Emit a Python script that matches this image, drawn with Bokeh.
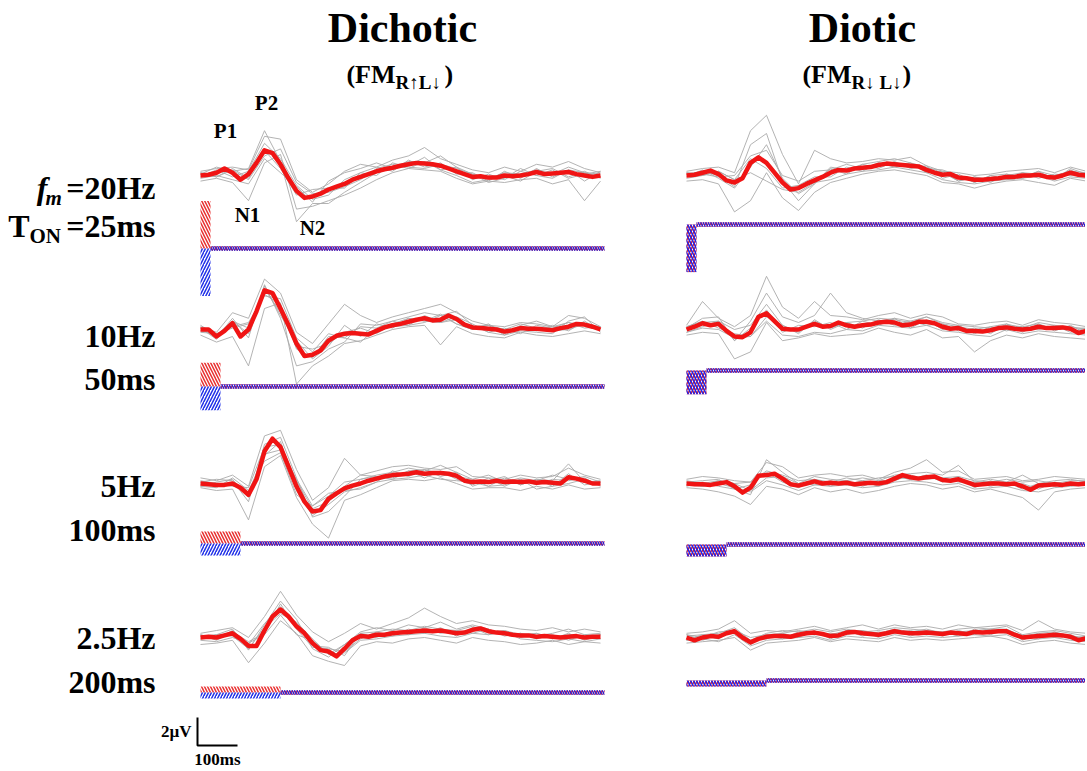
from bokeh.plotting import figure
from bokeh.models import Range1d
from bokeh.core.properties import value
from bokeh.embed import file_html
from bokeh.resources import INLINE

# ---------------- data ----------------
T_RED = list(range(0, 1001, 20))      # ms, grand-average sampling
T_GRAY = list(range(0, 1001, 40))     # ms, individual traces sampling
FM_HZ = [20, 10, 5, 2.5]
T_ON_MS = [25, 50, 100, 200]
FM_LABELS = ["20Hz", "10Hz", "5Hz", "2.5Hz"]
TON_LABELS = ["25ms", "50ms", "100ms", "200ms"]
CONDITIONS = ["Dichotic", "Diotic"]
PEAKS = ["P1", "P2", "N1", "N2"]
SCALE_MS = 100
SCALE_UV = 2

# grand averages (µV), dichotic
DICH_20 = [0.0, 0.05, 0.2, 0.5, 0.2, -0.3, 0.1, 0.9, 1.8, 1.6, 0.8, -0.2, -1.1, -1.6, -1.5, -1.3, -1.0, -0.8, -0.6, -0.3,
           -0.1, 0.1, 0.3, 0.45, 0.55, 0.7, 0.8, 0.9, 0.85, 0.8, 0.7, 0.5, 0.3, 0.1, -0.1, -0.05, -0.15, -0.15, 0.0, -0.05,
           0.0, 0.1, 0.25, 0.1, 0.15, 0.2, 0.25, 0.1, 0.0, -0.1, 0.0]
DICH_10 = [0.0, 0.0, -0.5, -0.1, 0.45, -0.5, 0.0, 1.3, 2.8, 2.6, 1.5, 0.3, -1.0, -1.9, -1.8, -1.5, -0.8, -0.45, -0.3, -0.25,
           -0.3, -0.35, -0.1, 0.15, 0.3, 0.4, 0.55, 0.7, 0.8, 0.65, 0.7, 1.0, 0.75, 0.35, 0.15, 0.1, 0.05, 0.0, -0.15, -0.05,
           0.1, 0.05, 0.05, 0.0, -0.05, 0.1, 0.2, 0.4, 0.35, 0.2, 0.0]
DICH_5 = [0.0, -0.05, -0.1, -0.1, 0.0, -0.3, -0.8, 0.3, 2.3, 3.2, 2.6, 1.2, -0.2, -1.3, -2.0, -1.9, -1.1, -0.7, -0.35, -0.15,
          0.0, 0.2, 0.35, 0.5, 0.6, 0.65, 0.7, 0.8, 0.7, 0.75, 0.75, 0.7, 0.55, 0.2, 0.1, 0.15, 0.1, 0.2, 0.1, 0.15,
          0.1, 0.15, 0.05, 0.1, 0.05, 0.0, 0.45, 0.35, 0.2, 0.0, 0.0]
DICH_2_5 = [0.0, 0.05, 0.0, 0.15, 0.3, -0.1, -0.6, -0.6, 0.5, 1.5, 2.0, 1.5, 0.8, 0.3, -0.4, -0.9, -1.0, -1.35, -0.8, -0.2,
            0.1, 0.05, 0.2, 0.2, 0.3, 0.35, 0.4, 0.45, 0.5, 0.45, 0.5, 0.4, 0.3, 0.35, 0.55, 0.65, 0.45, 0.35, 0.3, 0.2,
            0.15, 0.15, 0.05, 0.1, 0.05, 0.0, 0.05, 0.1, 0.0, 0.05, 0.05]
# grand averages (µV), diotic
DIOT_20 = [0.0, 0.05, 0.2, 0.35, 0.1, -0.35, -0.5, -0.2, 0.9, 1.3, 0.9, 0.2, -0.5, -1.0, -0.9, -0.6, -0.35, -0.1, 0.2, 0.4,
           0.35, 0.5, 0.55, 0.6, 0.75, 0.85, 0.8, 0.75, 0.7, 0.65, 0.4, 0.2, 0.05, 0.1, -0.15, -0.2, -0.3, -0.3, -0.25, -0.2,
           -0.1, -0.1, 0.0, 0.0, 0.05, -0.1, -0.15, 0.0, 0.2, 0.05, 0.0]
DIOT_10 = [0.0, 0.2, 0.45, 0.3, 0.4, -0.1, -0.5, -0.55, -0.2, 0.9, 1.15, 0.6, 0.05, 0.0, 0.0, 0.2, 0.4, 0.2, 0.25, 0.5,
           0.3, 0.2, 0.3, 0.35, 0.5, 0.55, 0.5, 0.3, 0.35, 0.55, 0.55, 0.45, 0.2, 0.05, 0.1, -0.1, -0.1, -0.15, -0.05, 0.1,
           0.15, 0.05, 0.0, 0.05, 0.2, 0.1, 0.1, 0.15, 0.05, -0.25, -0.1]
DIOT_5 = [0.0, -0.05, -0.05, -0.1, 0.0, 0.1, -0.2, -0.65, -0.3, 0.55, 0.6, 0.7, 0.35, -0.05, -0.15, 0.0, 0.15, 0.0, 0.05, 0.0,
          0.05, -0.05, 0.0, 0.05, 0.0, 0.1, 0.35, 0.6, 0.45, 0.35, 0.45, 0.5, 0.25, 0.2, 0.3, 0.1, -0.1, -0.05, 0.0, 0.0,
          -0.05, 0.0, -0.2, -0.45, -0.15, -0.1, -0.05, -0.1, 0.0, -0.05, 0.0]
DIOT_2_5 = [0.0, -0.2, 0.0, 0.1, 0.05, 0.3, 0.45, 0.0, -0.35, -0.1, 0.05, 0.1, 0.1, 0.05, 0.2, 0.3, 0.35, 0.25, 0.1, 0.15,
            0.35, 0.4, 0.3, 0.25, 0.2, 0.3, 0.45, 0.35, 0.3, 0.3, 0.35, 0.3, 0.25, 0.35, 0.3, 0.25, 0.4, 0.35, 0.4, 0.45,
            0.45, 0.2, 0.0, 0.05, 0.1, 0.15, 0.2, 0.15, 0.05, -0.2, -0.05]

# individual listeners (µV), dichotic
DICH_20_IND = [
    [0.3, 0.5, 0.6, 0.4, 2.8, 2.6, -0.3, -1.2, -0.6, 0.3, 0.8, 0.6, 1.1, 1.4, 2.0, 1.2, 0.8, 0.4, 0.2, 0.6, 0.3, 0.8, 0.6, 1.0, 0.5, 0.2],
    [-0.4, -0.2, -0.5, -1.8, 0.9, 1.5, -2.4, -2.2, -1.8, -1.4, -0.9, -0.3, 0.2, 0.5, 0.4, 0.3, -0.2, -0.6, -0.4, -0.5, -0.3, -0.2, -0.6, -0.3, -1.8, -0.4],
    [0.1, 0.6, 0.3, 0.5, 3.2, 1.0, -3.3, -2.0, -2.0, -1.2, -0.5, 0.2, 0.6, 1.0, 0.9, 1.4, 0.6, 0.1, -0.2, 0.2, 0.1, 0.4, 0.1, 0.6, 0.2, 0.1],
    [-0.2, 0.0, -0.3, -0.6, 1.2, 0.2, -0.8, -1.9, -0.4, 0.2, 0.5, 0.9, 0.5, 0.7, 1.3, 0.4, 0.0, -0.5, -0.3, 0.0, -0.4, 0.3, 0.5, -0.1, 0.3, -0.2],
    [0.2, -0.1, 0.5, -0.2, 1.8, 0.5, -1.4, -1.0, -0.9, -0.9, 0.2, 0.0, 0.9, 0.6, 0.5, 0.8, 0.5, 0.1, -0.5, -0.2, 0.5, 0.0, -0.2, 0.4, -0.4, 0.3],
    [-0.1, 0.4, -0.1, 0.3, 2.3, 1.2, -0.7, -1.7, -1.4, -0.3, 0.2, 0.6, 0.3, 1.1, 0.6, 0.9, 0.1, 0.2, -0.4, 0.3, -0.2, 0.5, -0.1, 0.4, 0.2, -0.1],
    [0.2, -0.1, 0.4, -0.3, 1.4, 1.9, -0.5, -1.3, -1.2, -0.8, -0.3, 0.5, 0.8, 0.5, 1.0, 0.4, 0.6, -0.3, 0.1, -0.3, 0.3, 0.0, 0.4, -0.2, 0.1, 0.3],
]
DICH_10_IND = [
    [0.2, -0.2, 1.2, 0.8, 3.6, 2.6, -0.2, -1.0, 0.4, 1.8, 1.0, 0.5, 0.9, 1.2, 1.5, 1.8, 1.2, 0.6, 0.3, 0.2, 0.5, 0.4, 0.2, 1.0, 0.8, 0.2],
    [-0.4, -0.9, -0.5, -2.6, 1.5, 1.9, -3.9, -2.6, -1.9, -1.0, -0.8, -0.4, 0.0, 0.2, 0.3, -1.1, 0.2, -0.3, -0.5, -0.6, -0.2, -0.4, -0.5, -0.3, -0.1, -0.3],
    [0.1, -0.6, 0.8, -0.6, 3.2, 0.8, -2.6, -2.3, -1.4, -0.9, 0.4, 0.3, 0.6, 0.9, 1.2, 1.0, 0.4, 0.0, 0.4, -0.3, 0.3, 0.6, 0.2, 0.5, 0.3, 0.1],
    [-0.1, -0.3, 0.2, 0.5, 2.4, 2.2, -0.6, -1.6, -0.3, -0.6, -0.9, 0.1, 0.2, 0.3, 0.5, 1.0, 1.3, 0.3, -0.2, -0.4, -0.1, -0.2, -0.3, 0.6, 0.9, -0.2],
    [0.3, -0.4, 0.6, 0.1, 2.9, 1.2, -1.2, -1.4, -1.0, -0.2, 0.1, -0.3, 0.4, 0.8, 0.6, 0.5, 0.7, 0.2, 0.3, 0.0, 0.4, 0.1, -0.1, 0.0, 0.4, 0.2],
    [-0.2, -0.3, 0.1, 0.4, 2.5, 1.8, -1.4, -2.0, -0.5, -0.6, 0.2, 0.1, 0.6, 0.3, 1.0, 0.5, 0.9, 0.4, -0.2, 0.1, -0.3, 0.3, 0.1, 0.5, 0.1, 0.2],
    [0.1, -0.7, 0.6, -0.3, 3.1, 1.0, -0.8, -2.1, -1.2, 0.3, -0.5, 0.4, 0.1, 0.8, 0.6, 1.1, 0.4, 0.0, 0.3, -0.4, 0.2, -0.1, 0.3, -0.1, 0.6, -0.1],
]
DICH_5_IND = [
    [0.4, 0.2, 0.6, -0.2, 3.4, 3.8, 1.0, -1.2, -0.3, 1.8, 0.6, 0.9, 1.2, 1.3, 1.1, 1.0, 1.2, 0.5, 0.4, 0.3, 0.6, 0.4, 0.5, 1.1, 0.6, 0.3],
    [-0.3, -0.5, -0.4, -2.6, 1.2, 2.0, -1.0, -2.9, -3.9, -1.2, -0.8, -0.3, 0.2, 0.3, 0.2, 0.4, 0.0, -0.4, -0.3, -0.3, -0.5, -0.2, -0.4, -0.1, -0.4, -0.3],
    [0.1, 0.3, 0.2, -1.3, 2.8, 3.3, 0.4, -2.4, -2.0, -0.9, 0.3, 0.6, 0.8, 1.1, 0.9, 1.3, 0.8, -0.2, 0.2, 0.5, -0.1, 0.3, 0.2, 1.4, 0.1, 0.2],
    [-0.2, -0.3, 0.4, -0.5, 1.6, 2.2, -0.8, -1.6, -0.7, -0.5, -0.4, 0.1, 0.3, 0.4, 0.6, 0.3, 0.2, 0.1, -0.2, -0.1, 0.3, -0.4, -0.2, 0.0, 0.3, -0.1],
    [0.2, 0.0, -0.2, -0.3, 2.6, 2.8, 0.2, -1.8, -1.3, -0.2, 0.6, 0.5, 0.4, 0.9, 1.0, 0.7, 0.5, 0.3, 0.6, 0.1, 0.4, 0.2, 0.6, 0.3, 0.5, 0.1],
    [-0.2, 0.1, 0.3, -1.0, 2.0, 3.0, -0.5, -2.3, -1.5, -0.6, -0.3, 0.1, 0.9, 0.5, 1.0, 0.5, 0.8, 0.3, -0.2, 0.4, -0.1, 0.3, -0.2, 0.7, -0.1, 0.1],
    [0.1, -0.2, -0.1, -0.6, 2.1, 2.4, 0.3, -1.6, -0.9, 0.1, 0.3, 0.5, 0.3, 0.9, 0.4, 0.9, 0.3, -0.1, 0.4, -0.2, 0.3, -0.1, 0.3, 0.2, 0.4, -0.2],
]
DICH_2_5_IND = [
    [0.3, 0.5, 0.7, 0.0, 1.5, 3.3, 1.6, 0.4, -0.3, 0.3, 1.0, 0.6, 1.0, 1.4, 2.1, 1.5, 1.0, 1.2, 0.9, 0.8, 0.6, 0.5, 0.7, 0.4, 0.6, 0.4],
    [-0.5, -0.4, -0.2, -1.8, -0.4, 1.2, 0.3, -1.3, -1.7, -2.0, -0.6, -0.3, -0.4, -0.1, 0.0, -0.2, -0.4, 0.0, -0.2, -0.3, -0.5, -0.4, -0.2, -0.5, -0.3, -0.4],
    [0.1, 0.2, 0.6, -0.9, 0.9, 2.6, 1.3, -0.8, -1.4, -0.5, 0.4, 0.7, 0.5, 0.9, 0.7, 1.1, 0.6, 0.9, 0.6, 0.2, 0.3, 0.1, 0.3, 0.6, 0.2, 0.3],
    [-0.2, -0.3, 0.0, -0.4, 0.2, 1.6, 0.2, -0.2, -1.2, -1.1, -0.2, -0.1, 0.1, 0.2, 0.3, 0.1, 0.0, 0.3, 0.2, 0.4, -0.1, -0.2, -0.3, -0.1, -0.3, -0.1],
    [0.2, -0.1, 0.5, -0.5, 1.0, 2.2, 0.9, -0.6, -0.7, -1.3, 0.3, 0.4, 0.6, 0.5, 0.8, 0.6, 0.5, 0.8, 0.4, 0.5, 0.2, 0.3, 0.0, 0.2, 0.1, 0.2],
    [-0.1, 0.2, 0.1, -0.8, 0.7, 1.7, 1.1, -0.1, -1.2, -0.5, 0.3, 0.0, 0.5, 0.2, 0.7, 0.3, 0.5, 0.3, 0.6, 0.1, 0.3, -0.1, 0.2, -0.2, 0.2, -0.1],
    [0.2, -0.2, 0.4, -0.3, 0.3, 2.4, 0.6, -0.7, -0.8, -1.0, -0.1, 0.4, 0.1, 0.6, 0.3, 0.7, 0.1, 0.7, 0.2, 0.5, 0.0, 0.3, -0.1, 0.3, -0.2, 0.2],
]
# individual listeners (µV), diotic
DIOT_20_IND = [
    [0.3, 0.5, 0.6, 0.2, 3.2, 4.3, 1.5, -0.6, 1.8, 1.2, 0.9, 1.0, 1.2, 1.1, 1.3, 0.7, 0.3, 0.2, 0.0, 0.1, 0.3, 0.4, 0.5, 0.2, 0.6, 0.3],
    [-0.4, -0.3, -0.6, -2.6, -1.8, 0.2, -1.6, -2.5, -1.2, -0.5, -0.2, 0.1, 0.3, 0.4, 0.2, 0.0, -0.5, -0.6, -0.9, -0.6, -0.4, -0.3, -0.5, -0.7, -0.2, -0.4],
    [0.1, 0.3, 0.0, -0.8, 2.2, 3.0, -0.4, -1.8, -0.6, 0.6, 0.4, 0.8, 1.0, 1.2, 0.9, 0.6, 0.2, -0.4, -0.1, -0.3, 0.0, 0.2, 0.1, -0.3, 0.5, 0.1],
    [-0.2, 0.0, 0.3, -0.3, 0.2, -0.4, -1.0, -1.2, -0.5, -0.3, 0.1, 0.3, 0.4, 0.6, 0.4, 0.2, -0.3, -0.5, -0.6, -0.4, -0.3, -0.2, 0.0, -0.4, -0.1, -0.2],
    [0.2, 0.1, -0.1, 0.0, 1.4, 1.8, 0.0, -0.4, 0.3, 0.4, 0.8, 0.5, 0.9, 0.7, 0.8, 0.5, 0.4, 0.0, -0.5, 0.0, 0.1, -0.1, 0.3, 0.0, 0.3, 0.2],
    [-0.1, 0.4, -0.2, -0.9, 0.6, 2.2, -0.2, -1.3, -0.6, 0.5, 0.1, 0.8, 0.5, 1.0, 0.5, 0.7, -0.2, 0.1, -0.5, 0.0, -0.3, 0.2, -0.2, 0.1, 0.0, 0.2],
    [0.2, 0.0, 0.3, -0.3, 1.2, 0.5, -0.9, -0.7, -0.1, -0.1, 0.6, 0.3, 0.9, 0.6, 0.9, 0.2, 0.3, -0.4, -0.1, -0.5, 0.1, -0.2, 0.3, -0.3, 0.4, -0.1],
]
DIOT_10_IND = [
    [0.3, 2.0, 0.8, 0.2, 1.0, 3.8, 1.6, 0.8, 2.0, 1.0, 0.9, 0.7, 1.0, 1.2, 0.8, 1.1, 0.9, 0.4, 0.3, 0.5, 0.6, 0.3, 0.7, 0.5, 0.4, 0.2],
    [-0.4, -0.2, -0.3, -2.1, -1.6, 0.5, -0.8, -0.6, -0.3, -0.5, -0.4, -0.3, 0.1, -0.2, -0.4, 0.0, -0.6, -0.5, -1.6, -0.8, -0.4, -0.6, -0.3, -0.5, -0.6, -0.7],
    [0.1, 0.8, 0.9, -0.8, 0.6, 2.6, 0.9, 0.5, 1.0, 2.6, 1.2, 0.8, 0.6, 0.8, 0.6, 0.9, 0.4, 0.2, 0.0, 0.2, 0.4, 0.1, 0.5, 0.3, 0.2, 0.0],
    [-0.2, 0.1, 0.0, -0.6, -0.5, 0.6, -0.4, -0.5, -0.2, -0.3, 0.0, -0.1, 0.3, 0.2, 0.1, 0.3, -0.1, -0.2, -0.4, -0.5, 0.0, -0.3, -0.1, -0.2, -0.3, -0.4],
    [0.2, 0.5, 0.6, 0.0, 0.3, 1.8, 0.3, -0.2, 0.6, 0.1, 0.5, 0.6, 0.8, 0.7, 0.5, 0.9, 0.5, 0.3, 0.2, 0.1, 0.3, 0.2, 0.4, 0.0, 0.1, 0.1],
    [-0.2, 0.2, 0.6, -0.8, 0.1, 1.4, -0.2, 0.3, 0.2, 0.5, 0.0, 0.6, 0.3, 0.8, 0.1, 0.7, 0.0, 0.3, -0.3, 0.2, -0.1, 0.2, 0.0, 0.3, -0.2, 0.1],
    [0.2, 0.6, 0.1, -0.3, -0.5, 0.9, 0.3, -0.3, 0.7, 0.0, 0.5, 0.1, 0.7, 0.3, 0.6, 0.3, 0.4, -0.1, 0.1, -0.3, 0.4, -0.2, 0.4, -0.1, 0.3, -0.3],
]
DIOT_5_IND = [
    [0.3, 0.5, 0.4, 0.2, 0.1, 1.5, 1.2, 0.4, 0.6, 0.7, 0.5, 0.6, 0.3, 0.8, 1.1, 1.7, 0.8, 0.9, 0.3, 0.4, 0.5, 0.2, 0.3, 0.5, 0.4, 0.3],
    [-0.3, -0.4, -0.6, -0.9, -1.5, -0.2, -0.4, -0.8, -0.3, -0.6, -0.4, -0.7, -0.5, -0.2, 0.0, -0.1, -0.4, -0.2, -0.6, -0.4, -0.7, -1.0, -1.9, -0.6, -0.4, -0.3],
    [0.1, 0.2, 0.3, -0.4, -0.8, 1.7, 0.8, 0.0, 0.5, 0.3, 0.2, 0.4, 0.2, 0.6, 0.7, 0.8, 0.6, 1.3, 0.1, 0.3, 0.1, 0.6, 0.0, 0.2, 0.3, 0.1],
    [-0.1, -0.2, 0.0, -0.3, -0.6, 0.2, -0.1, -0.5, -0.1, -0.2, -0.1, -0.3, -0.2, 0.1, 0.2, 0.1, -0.1, 0.0, -0.4, -0.3, -0.2, -0.5, -0.6, -0.3, -0.2, -0.1],
    [0.2, 0.0, 0.2, 0.0, 0.1, 0.9, 0.6, 0.2, 0.3, 0.1, 0.4, 0.2, 0.4, 0.5, 0.3, 0.6, 0.4, 0.5, 0.2, 0.1, 0.3, 0.1, 0.2, 0.0, 0.2, 0.2],
    [-0.2, 0.1, -0.2, -0.4, -0.1, 0.8, 0.1, -0.3, 0.3, -0.2, 0.2, -0.2, 0.2, 0.2, 0.6, 0.3, 0.4, 0.1, 0.1, -0.2, 0.1, -0.4, 0.0, -0.2, 0.1, -0.1],
    [0.1, -0.2, 0.2, 0.0, -0.5, 0.4, 0.5, 0.0, -0.1, 0.2, -0.1, 0.2, -0.2, 0.5, 0.3, 0.6, 0.1, 0.5, -0.3, 0.2, -0.2, 0.0, -0.4, 0.1, -0.1, 0.1],
]
DIOT_2_5_IND = [
    [0.3, 0.4, 0.6, 1.2, 0.3, 0.5, 0.4, 0.6, 0.8, 0.5, 0.7, 0.9, 0.6, 0.9, 0.7, 0.8, 0.6, 0.9, 0.7, 0.8, 0.9, 0.5, 1.2, 0.6, 0.4, 0.3],
    [-0.4, -0.3, -0.2, 0.0, -0.9, -0.4, -0.3, -0.2, 0.0, -0.3, -0.1, -0.2, -0.3, 0.0, -0.2, -0.1, -0.2, -0.1, 0.0, 0.1, -0.1, -0.5, -0.3, -0.2, -0.4, -0.5],
    [0.1, 0.2, 0.3, 0.7, -0.2, 0.3, 0.5, 0.4, 0.6, 0.4, 0.6, 0.4, 0.5, 0.7, 0.6, 0.5, 0.4, 0.6, 0.7, 0.6, 0.8, 0.2, 0.4, 0.5, 0.3, 0.1],
    [-0.2, -0.1, -0.3, 0.2, -0.6, -0.2, -0.1, 0.0, 0.1, -0.2, 0.1, 0.0, -0.1, 0.2, 0.0, 0.1, 0.0, 0.1, 0.2, 0.1, 0.2, -0.3, -0.1, 0.0, -0.2, -0.3],
    [0.2, 0.0, 0.4, 0.5, 0.0, 0.2, 0.3, 0.5, 0.3, 0.2, 0.5, 0.5, 0.3, 0.6, 0.4, 0.6, 0.3, 0.4, 0.5, 0.6, 0.6, 0.1, 0.3, 0.4, 0.1, 0.0],
    [-0.2, 0.2, -0.1, 0.6, -0.5, 0.2, -0.1, 0.4, 0.2, 0.3, 0.2, 0.5, 0.0, 0.6, 0.1, 0.5, 0.1, 0.5, 0.2, 0.6, 0.3, 0.2, -0.1, 0.4, -0.1, 0.1],
    [0.2, -0.2, 0.2, 0.3, -0.2, -0.1, 0.3, 0.0, 0.5, -0.1, 0.5, 0.1, 0.4, 0.3, 0.5, 0.2, 0.4, 0.1, 0.6, 0.2, 0.6, -0.2, 0.3, 0.0, 0.2, -0.2],
]

MEANS = [[DICH_20, DICH_10, DICH_5, DICH_2_5], [DIOT_20, DIOT_10, DIOT_5, DIOT_2_5]]
INDIV = [[DICH_20_IND, DICH_10_IND, DICH_5_IND, DICH_2_5_IND], [DIOT_20_IND, DIOT_10_IND, DIOT_5_IND, DIOT_2_5_IND]]

# ---------------- layout (page pixels of the reference) ----------------
PX_PER_MS = 0.4
PX_PER_UV = 14.0
W, H = 1085, 769
ORIGIN_PX, ORIGIN_PY = 200, 175


def X(px):
    return (px - ORIGIN_PX) / PX_PER_MS


def Y(py):
    return (ORIGIN_PY - py) / PX_PER_UV


def TY(py, size):
    # place a text so that its alphabetic baseline sits at page row py
    return Y(py - 0.35 * size)


COL_ONSET_PX = [200, 686]
ROW_BASE_PY = [175, 329, 483, 637]
STIM_LINE_PY = [[248, 386, 543, 692], [224, 370, 544, 680]]
STIM_UV_PER_HZ = 0.17
BAND_HALF = 0.16
TRACE_END_MS = 1010

SERIF = value("Liberation Serif")

p = figure(width=W, height=H, x_range=Range1d(X(0), X(W)), y_range=Range1d(Y(H), Y(0)),
           output_backend="svg", toolbar_location=None, min_border=0,
           x_axis_type=None, y_axis_type=None)
p.grid.visible = False
p.outline_line_color = None
p.background_fill_color = "white"
p.border_fill_color = "white"

for c in range(2):
    x0 = X(COL_ONSET_PX[c])
    for r in range(4):
        base = Y(ROW_BASE_PY[r])
        xs, ys = [], []
        for tr in INDIV[c][r]:
            xs.append([x0 + t for t in T_GRAY[:len(tr)]])
            ys.append([base + v for v in tr])
        p.multi_line(xs, ys, line_color="#ababab", line_width=1, line_alpha=0.9)
        m = MEANS[c][r]
        p.line([x0 + t for t in T_RED[:len(m)]], [base + v for v in m], line_color="#f01414", line_width=4.5,
               line_join="round")

        # stimulus schematic
        ly = Y(STIM_LINE_PY[c][r])
        h = FM_HZ[r] * STIM_UV_PER_HZ
        dur = T_ON_MS[r]
        for col, pat in (("#e02020", "/"), ("#2020e0", "\\")):
            p.quad(left=[x0 + dur], right=[x0 + TRACE_END_MS], bottom=[ly - BAND_HALF], top=[ly + BAND_HALF],
                   fill_color=None, line_color=None, hatch_pattern=pat, hatch_color=col,
                   hatch_scale=5, hatch_weight=1.3)
        if c == 0:
            p.quad(left=[x0], right=[x0 + dur], bottom=[ly], top=[ly + h], fill_color=None, line_color=None,
                   hatch_pattern="\\", hatch_color="#e83030", hatch_scale=6, hatch_weight=1.5)
            p.quad(left=[x0], right=[x0 + dur], bottom=[ly - h], top=[ly], fill_color=None, line_color=None,
                   hatch_pattern="/", hatch_color="#2030e8", hatch_scale=6, hatch_weight=1.5)
        else:
            for col, pat in (("#e82020", "/"), ("#2020e8", "\\")):
                p.quad(left=[x0], right=[x0 + dur], bottom=[ly - h], top=[ly], fill_color=None, line_color=None,
                       hatch_pattern=pat, hatch_color=col, hatch_scale=6, hatch_weight=1.5)


def txt(xs_px, ys_py, texts, size, align="center", style="bold"):
    p.text(x=[X(v) for v in xs_px], y=[TY(v, size) for v in ys_py], text=texts, text_font=SERIF,
           text_font_style=style, text_font_size="%dpx" % size, text_align=align, text_baseline="alphabetic",
           text_color="black")


# column titles
txt([402, 862], [42, 42], CONDITIONS, 42)
txt([395, 851], [83, 83], ["(FM", "(FM"], 26, align="right")
txt([395, 851], [89, 89], ["R\u2191L\u2193", "R\u2193 L\u2193"], 19, align="left")
txt([444, 902], [83, 83], [")", ")"], 26, align="left")

# peak labels
txt([225, 266, 247, 312], [138, 110, 222, 235], PEAKS, 21)

# row labels
FM_BASE = [199, 347, 497, 649]
TON_BASE = [237, 390, 541, 693]
txt([155] * 4, FM_BASE, ["=" + FM_LABELS[0]] + FM_LABELS[1:], 32, align="right")
txt([155] * 4, TON_BASE, ["=" + TON_LABELS[0]] + TON_LABELS[1:], 32, align="right")
txt([47], [199], ["f"], 32, align="right", style="bold italic")
txt([45], [205], ["m"], 21, align="left", style="bold italic")
txt([29], [237], ["T"], 32, align="right")
txt([29], [243], ["ON"], 21, align="left")

# scale bar
sx, sy = X(197), Y(745)
p.line([sx, sx, sx + SCALE_MS], [sy + SCALE_UV, sy, sy], line_color="black", line_width=2)
txt([191], [737], ["%d\u00b5V" % SCALE_UV], 17, align="right")
txt([217], [765], ["%dms" % SCALE_MS], 17)

open("out.html", "w").write(file_html(p, INLINE))
